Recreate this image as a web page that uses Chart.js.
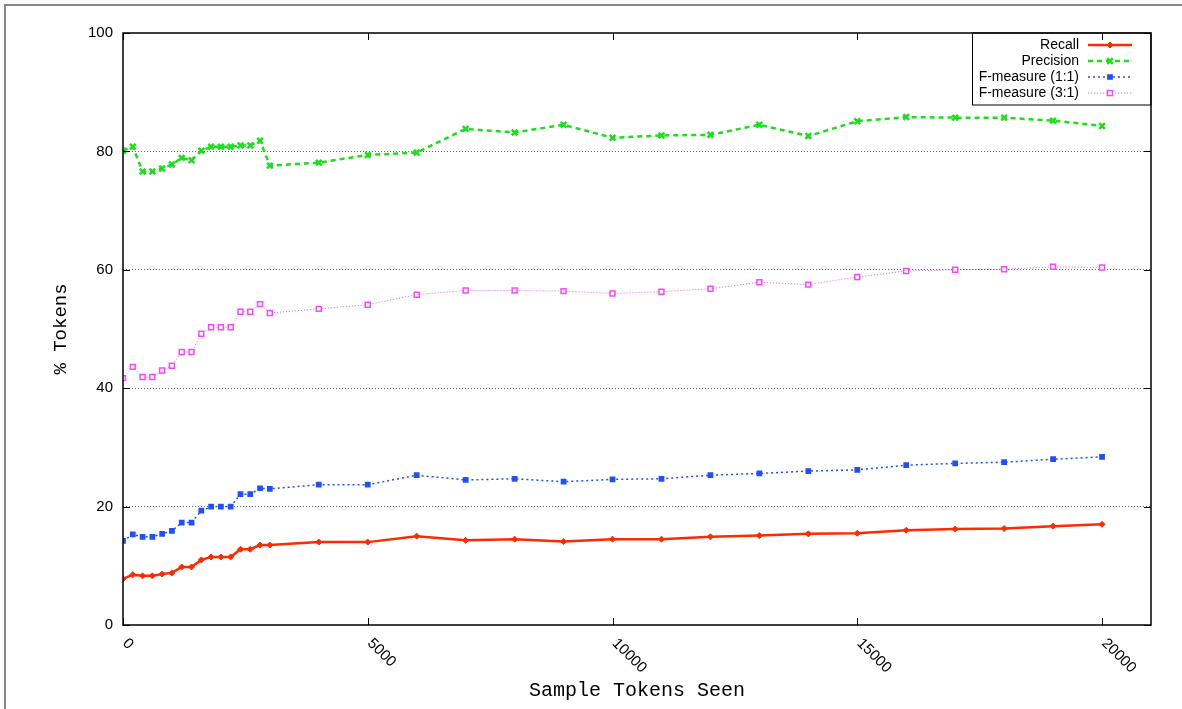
<!DOCTYPE html>
<html lang="en">
<head>
    <meta charset="UTF-8">
    <title>Sample Tokens Seen vs % Tokens</title>
    <script src="https://cdn.jsdelivr.net/npm/chart.js"></script>
    <style>
        body { margin: 0; background: #fff; }
        #wrap { position: relative; width: 1182px; height: 709px; overflow: hidden; }
        #frame { position: absolute; left: 4px; top: 4px; width: 1300px; height: 800px; border: 2px solid #888; }
        canvas { position: absolute; left: 0; top: 0; }
    </style>
</head>
<body>
<div id="wrap">
    <div id="frame"></div>
    <canvas id="myChart" width="1182" height="709"></canvas>
</div>
<script>
    // sample sizes (tokens seen)
    const tokensSeen = [0, 200, 400, 600, 800, 1000, 1200, 1400, 1600, 1800, 2000, 2200, 2400, 2600, 2800, 3000,
        4000, 5000, 6000, 7000, 8000, 9000, 10000, 11000, 12000, 13000, 14000, 15000, 16000, 17000, 18000, 19000, 20000];

    const recall = [7.8, 8.5, 8.3, 8.3, 8.6, 8.8, 9.8, 9.8, 11.0, 11.5, 11.5, 11.5, 12.8, 12.8, 13.5, 13.5,
        14.0, 14.0, 15.0, 14.3, 14.5, 14.1, 14.5, 14.5, 14.9, 15.1, 15.4, 15.5, 16.0, 16.2, 16.3, 16.7, 17.0];

    const precision = [80.1, 80.8, 76.6, 76.6, 77.1, 77.8, 78.9, 78.5, 80.1, 80.8, 80.8, 80.8, 81.0, 81.0, 81.8, 77.6,
        78.1, 79.4, 79.8, 83.8, 83.2, 84.5, 82.3, 82.7, 82.8, 84.5, 82.6, 85.1, 85.8, 85.7, 85.7, 85.2, 84.3];

    const fMeasure11 = [14.2, 15.3, 14.9, 14.9, 15.4, 15.9, 17.3, 17.3, 19.3, 20.0, 20.0, 20.0, 22.1, 22.1, 23.1, 23.0,
        23.7, 23.7, 25.3, 24.5, 24.7, 24.2, 24.6, 24.7, 25.3, 25.6, 26.0, 26.2, 27.0, 27.3, 27.5, 28.0, 28.4];

    const fMeasure31 = [41.7, 43.6, 41.9, 41.9, 43.0, 43.8, 46.1, 46.1, 49.2, 50.3, 50.3, 50.3, 52.9, 52.9, 54.2, 52.7,
        53.4, 54.1, 55.8, 56.5, 56.5, 56.4, 56.0, 56.3, 56.8, 57.9, 57.5, 58.8, 59.8, 60.0, 60.1, 60.5, 60.4];

    const xTicks = [0, 5000, 10000, 15000, 20000];
    const yTicks = [0, 20, 40, 60, 80, 100];

    const pts = ys => tokensSeen.map((x, i) => ({ x: x, y: ys[i] }));

    // gnuplot style box, inward ticks, rotated x labels and key
    const gnuplotLook = {
        id: 'gnuplotLook',
        afterDraw(chart) {
            const ctx = chart.ctx;
            const a = chart.chartArea;
            const x = chart.scales.x, y = chart.scales.y;
            ctx.save();
            ctx.strokeStyle = '#000';
            ctx.lineWidth = 1.5;
            ctx.setLineDash([]);
            ctx.strokeRect(a.left, a.top, a.right - a.left, a.bottom - a.top);

            ctx.lineWidth = 1;
            ctx.beginPath();
            x.ticks.forEach(t => {
                const px = Math.round(x.getPixelForValue(t.value)) + 0.5;
                ctx.moveTo(px, a.bottom); ctx.lineTo(px, a.bottom - 7);
                ctx.moveTo(px, a.top); ctx.lineTo(px, a.top + 7);
            });
            y.ticks.forEach(t => {
                const py = Math.round(y.getPixelForValue(t.value)) + 0.5;
                ctx.moveTo(a.left, py); ctx.lineTo(a.left + 7, py);
                ctx.moveTo(a.right, py); ctx.lineTo(a.right - 7, py);
            });
            ctx.stroke();

            ctx.fillStyle = '#000';
            ctx.font = '15px "Liberation Sans", Arial, sans-serif';
            ctx.textAlign = 'left';
            ctx.textBaseline = 'middle';
            x.ticks.forEach(t => {
                const px = x.getPixelForValue(t.value);
                ctx.save();
                ctx.translate(px + 2, a.bottom + 16);
                ctx.rotate(Math.PI / 4);
                ctx.fillText(String(t.value), 0, 0);
                ctx.restore();
            });

            // key
            ctx.font = '14px "Liberation Sans", Arial, sans-serif';
            ctx.lineWidth = 1;
            ctx.strokeRect(972.5, a.top, a.right - 972.5, 72);
            chart.data.datasets.forEach((ds, i) => {
                const ry = 45 + i * 16;
                ctx.fillStyle = '#000';
                ctx.textAlign = 'right';
                ctx.fillText(ds.label, 1079, ry);
                ctx.strokeStyle = ds.borderColor;
                ctx.lineWidth = ds.borderWidth;
                ctx.setLineDash(ds.borderDash || []);
                ctx.beginPath();
                ctx.moveTo(1088, ry); ctx.lineTo(1132, ry);
                ctx.stroke();
                ctx.setLineDash([]);
                ctx.fillStyle = ds.pointBackgroundColor;
                ctx.strokeStyle = ds.pointBorderColor;
                ctx.lineWidth = ds.pointBorderWidth;
                Chart.helpers.drawPoint(ctx, { pointStyle: ds.pointStyle, radius: ds.pointRadius, rotation: 0, borderWidth: ds.pointBorderWidth }, 1110, ry);
            });
            ctx.restore();
        }
    };

    const ctx = document.getElementById('myChart').getContext('2d');

    new Chart(ctx, {
        type: 'line',
        data: {
            datasets: [{
                label: 'Recall',
                data: pts(recall),
                borderColor: '#ff2a00',
                borderWidth: 2.5,
                pointStyle: 'rectRot',
                pointRadius: 3,
                pointBackgroundColor: '#ff2a00',
                pointBorderColor: '#ff2a00',
                pointBorderWidth: 1
            }, {
                label: 'Precision',
                data: pts(precision),
                borderColor: '#19e019',
                borderWidth: 2.5,
                borderDash: [5, 4],
                pointStyle: 'crossRot',
                pointRadius: 4,
                pointBackgroundColor: '#19e019',
                pointBorderColor: '#19e019',
                pointBorderWidth: 2.5
            }, {
                label: 'F-measure (1:1)',
                data: pts(fMeasure11),
                borderColor: '#1f4fff',
                borderWidth: 1.5,
                borderDash: [2, 3],
                pointStyle: 'rect',
                pointRadius: 3,
                pointBackgroundColor: '#1f4fff',
                pointBorderColor: '#1f4fff',
                pointBorderWidth: 1.5
            }, {
                label: 'F-measure (3:1)',
                data: pts(fMeasure31),
                borderColor: '#ff55ff',
                borderWidth: 1,
                borderDash: [1, 2],
                pointStyle: 'rect',
                pointRadius: 3.5,
                pointBackgroundColor: '#ffffff',
                pointBorderColor: '#ff44ff',
                pointBorderWidth: 1.5
            }]
        },
        options: {
            responsive: false,
            animation: false,
            devicePixelRatio: 1,
            layout: { padding: { left: 0, right: 31, top: 33, bottom: 0 } },
            plugins: {
                legend: { display: false },
                tooltip: { enabled: false }
            },
            scales: {
                x: {
                    type: 'linear',
                    min: 0,
                    max: 21000,
                    afterBuildTicks: s => { s.ticks = xTicks.map(v => ({ value: v })); },
                    afterFit: s => { s.height = 84; },
                    grid: { display: false, drawTicks: false },
                    border: { display: false },
                    ticks: { display: false },
                    title: {
                        display: true,
                        text: 'Sample Tokens Seen',
                        color: '#000',
                        font: { family: '"Liberation Mono", "Courier New", monospace', size: 20 },
                        padding: { top: 0, bottom: 6 }
                    }
                },
                y: {
                    min: 0,
                    max: 100,
                    afterBuildTicks: s => { s.ticks = yTicks.map(v => ({ value: v })); },
                    afterFit: s => { s.width = 123; },
                    grid: {
                        color: ctx => (ctx.tick.value === 0 || ctx.tick.value === 100) ? 'rgba(0,0,0,0)' : '#666',
                        lineWidth: 1,
                        drawTicks: false
                    },
                    border: { display: false, dash: [1, 2] },
                    ticks: {
                        color: '#000',
                        padding: 10,
                        font: { family: '"Liberation Sans", Arial, sans-serif', size: 15 }
                    },
                    title: {
                        display: true,
                        text: '% Tokens',
                        color: '#000',
                        font: { family: '"Liberation Mono", "Courier New", monospace', size: 19 },
                        padding: { top: 50, bottom: 0 }
                    }
                }
            }
        },
        plugins: [gnuplotLook]
    });
</script>
</body>
</html>
